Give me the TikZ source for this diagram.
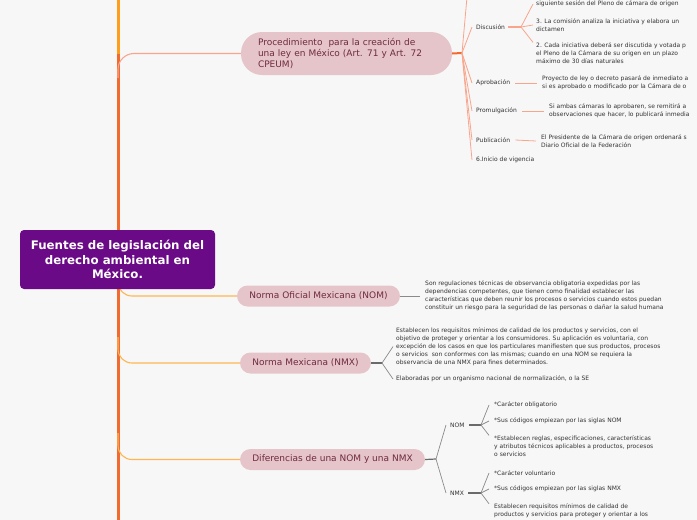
\documentclass[tikz,border=0pt]{standalone}
\usepackage{fontspec}
\setmainfont{DejaVu Sans}
\definecolor{bg}{HTML}{F7F7F7}
\definecolor{purplebox}{HTML}{6B0A87}
\definecolor{pinkbg}{HTML}{E6C5CA}
\definecolor{maroon}{HTML}{6E2B3F}
\definecolor{txt}{HTML}{333333}
\definecolor{salmon}{HTML}{F7A68C}
\definecolor{trunkred}{HTML}{F26A2E}
\definecolor{trunkorange}{HTML}{FF9E1B}
\definecolor{yellowline}{HTML}{FFB552}
\definecolor{grayline}{HTML}{6A6A6A}
\definecolor{graylight}{HTML}{8A8A8A}
\begin{document}
\begin{tikzpicture}[x=1pt,y=-1pt,
  small/.style={font=\fontsize{6}{8}\selectfont, text=txt, inner sep=0pt, anchor=west, align=left},
  branch/.style={fill=pinkbg, text=maroon, font=\fontsize{9}{11}\selectfont, minimum height=21pt, rounded corners=10.5pt, inner sep=0pt},
  thin/.style={salmon, line width=0.8pt},
  gthin/.style={graylight, line width=0.7pt},
  gstub/.style={grayline, line width=1.2pt}
]
\useasboundingbox (0,0) rectangle (697,520);
\fill[bg] (0,0) rectangle (697,520);
\clip (0,0) rectangle (697,520);

% trunk
\coordinate (ttop) at (118,0);
\coordinate (tmid) at (118,58);
\coordinate (tmid2) at (118,54);
\coordinate (tbot) at (118,520);
\draw[trunkorange, line width=3pt] (ttop) -- (tmid);
\draw[trunkred, line width=3pt] (tmid2) -- (tbot);

% branch nodes
\node[branch, minimum width=211pt, minimum height=43pt, rounded corners=21pt, text width=177pt, align=left, inner xsep=17pt] (proc) at (346.5,53.5)
  {Procedimiento \ para la creación de\\una ley en México (Art. 71 y Art. 72\\CPEUM)};
\node[branch, minimum width=163pt] (nom) at (318.5,296) {Norma Oficial Mexicana (NOM)};
\node[branch, minimum width=131pt] (nmx) at (305.5,363) {Norma Mexicana (NMX)};
\node[branch, minimum width=185pt] (dif) at (332.5,459.5) {Diferencias de una NOM y una NMX};

% trunk connectors
\coordinate (c1) at (118,78);
\coordinate (c2) at (118,270);
\coordinate (c3) at (118,337);
\coordinate (c4) at (118,433);
\draw[salmon, line width=1.1pt, rounded corners=16pt] (c1) |- (proc.west);
\draw[yellowline, line width=1.1pt, rounded corners=14pt] (c2) |- (nom.west);
\draw[yellowline, line width=1.1pt, rounded corners=14pt] (c3) |- (nmx.west);
\draw[yellowline, line width=1.1pt, rounded corners=14pt] (c4) |- (dif.west);

% central node
\node[fill=purplebox, text=white, rounded corners=4pt, minimum width=195pt, minimum height=59pt, inner sep=0pt, align=center,
  font=\bfseries\fontsize{11.8}{14.5}\selectfont] (root) at (117.5,259.5)
  {Fuentes de legislación del\\derecho ambiental en\\México.};

% Procedimiento subtree
\coordinate (ph) at (462,53);
\coordinate (ptop) at (467,-3);
\draw[trunkred, line width=2pt] (proc.east) -- (ph);
\node[small] (disc) at (476,27) {Discusión};
\node[small] (apro) at (476,83) {Aprobación};
\node[small] (prom) at (476,111) {Promulgación};
\node[small] (publ) at (476,140) {Publicación};
\node[small] (inic) at (476,160) {6.Inicio de vigencia};
\draw[thin] (ph) -- (ptop);
\foreach \n in {disc,apro,prom,publ,inic}
  \draw[thin] (ph) -- ([xshift=-4pt]\n.west);

% Discusion
\coordinate (dh) at (521,27);
\draw[salmon, line width=1.6pt] ([xshift=3pt]disc.east) -- (dh);
\node[small] (d1) at (536,4) {siguiente sesión del Pleno de cámara de origen};
\node[small] (d2) at (536,25) {3. La comisión analiza la iniciativa y elabora un\\dictamen};
\node[small] (d3) at (536,53) {2. Cada iniciativa deberá ser discutida y votada p\\el Pleno de la Cámara de su origen en un plazo\\máximo de 30 días naturales};
\draw[thin] (dh) -- ([xshift=-3pt]d1.west);
\draw[thin] (dh) -- ([xshift=-3pt]d2.west);
\draw[thin] (dh) -- ([xshift=-3pt]d3.north west);

\node[small] (a1) at (542,83) {Proyecto de ley o decreto pasará de inmediato a\\si es aprobado o modificado por la Cámara de o};
\node[small] (p1) at (549,111) {Si ambas cámaras lo aprobaren, se remitirá a\\observaciones que hacer, lo publicará inmedia};
\node[small] (q1) at (541,141) {El Presidente de la Cámara de origen ordenará s\\Diario Oficial de la Federación};
\draw[thin] ([xshift=5pt]apro.east) -- ([xshift=-5pt]a1.west);
\draw[thin] ([xshift=5pt]prom.east) -- ([xshift=-5pt]p1.west);
\draw[thin] ([xshift=5pt]publ.east) -- ([xshift=-5pt]q1.west);

% NOM
\node[small] (n1) at (425,296) {Son regulaciones técnicas de observancia obligatoria expedidas por las\\dependencias competentes, que tienen como finalidad establecer las\\características que deben reunir los procesos o servicios cuando estos puedan\\constituir un riesgo para la seguridad de las personas o dañar la salud humana};
\draw[gthin] (nom.east) -- ([xshift=-5pt]n1.west);

% NMX
\coordinate (xh) at (382,363);
\draw[gstub] (nmx.east) -- (xh);
\node[small] (x1) at (396,346.5) {Establecen los requisitos mínimos de calidad de los productos y servicios, con el\\objetivo de proteger y orientar a los consumidores. Su aplicación es voluntaria, con\\excepción de los casos en que los particulares manifiesten que sus productos, procesos\\o servicios \ son conformes con las mismas; cuando en una NOM se requiera la\\observancia de una NMX para fines determinados.};
\node[small] (x2) at (396,379) {Elaboradas por un organismo nacional de normalización, o la SE};
\draw[gthin] (xh) -- ([xshift=-3pt]x1.west);
\draw[gthin] (xh) -- ([xshift=-3pt]x2.west);

% Diferencias
\coordinate (fh) at (436,459);
\draw[gstub] (dif.east) -- (fh);
\node[small] (nomL) at (450,425) {NOM};
\node[small] (nmxL) at (450,493) {NMX};
\draw[gthin] (fh) -- ([xshift=-4pt]nomL.west);
\draw[gthin] (fh) -- ([xshift=-4pt]nmxL.west);

\coordinate (nh) at (481,425);
\draw[gstub] ([xshift=4pt]nomL.east) -- (nh);
\node[small] (t1) at (494,405) {*Carácter obligatorio};
\node[small] (t2) at (494,421) {*Sus códigos empiezan por las siglas NOM};
\node[small] (t3) at (494,446) {*Establecen reglas, especificaciones, características\\y atributos técnicos aplicables a productos, procesos\\o servicios};
\draw[gthin] (nh) -- ([xshift=-5pt]t1.west);
\draw[gthin] (nh) -- ([xshift=-5pt]t2.west);
\draw[gthin] (nh) -- ([xshift=-5pt]t3.north west);

\coordinate (mh) at (481,493);
\draw[gstub] ([xshift=4pt]nmxL.east) -- (mh);
\node[small] (u1) at (494,473) {*Carácter voluntario};
\node[small] (u2) at (494,489) {*Sus códigos empiezan por las siglas NMX};
\node[small] (u3) at (494,511) {Establecen requisitos mínimos de calidad de\\productos y servicios para proteger y orientar a los};
\draw[gthin] (mh) -- ([xshift=-5pt]u1.west);
\draw[gthin] (mh) -- ([xshift=-5pt]u2.west);
\draw[gthin] (mh) -- ([xshift=-5pt]u3.north west);
\end{tikzpicture}
\end{document}
